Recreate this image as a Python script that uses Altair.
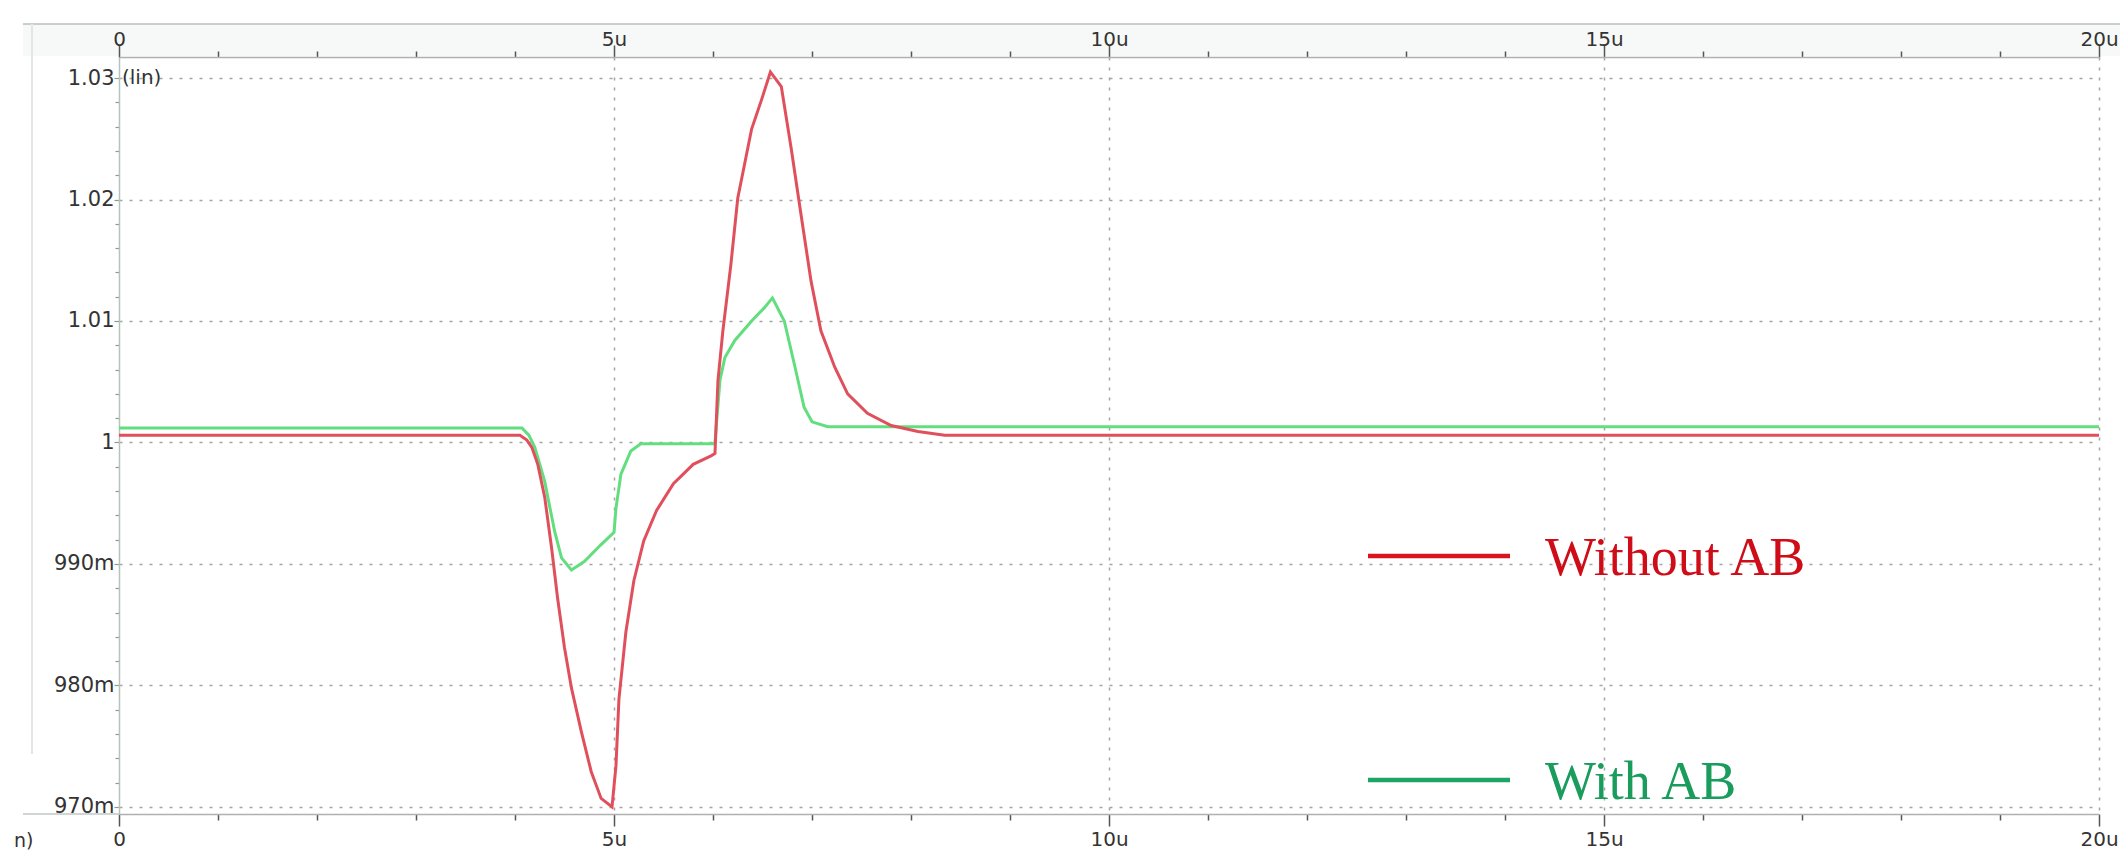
import altair as alt
import pandas as pd

# ---- data (time in microseconds, value in V) ----
red_t = [0, 4.05, 4.12, 4.17, 4.23, 4.30, 4.37, 4.43, 4.50, 4.57, 4.67, 4.77, 4.87, 4.98,
         5.02, 5.05, 5.12, 5.20, 5.30, 5.43, 5.60, 5.80, 5.98, 6.02, 6.05, 6.10, 6.18, 6.25,
         6.39, 6.49, 6.58, 6.69, 6.79, 6.89, 6.99, 7.09, 7.23, 7.36, 7.56, 7.80, 8.07, 8.34, 20]
red_v = [1.0006, 1.0006, 1.0002, 0.9996, 0.9982, 0.9955, 0.9913, 0.9872, 0.9831, 0.9798,
         0.9762, 0.9729, 0.9707, 0.9700, 0.9734, 0.9789, 0.9844, 0.9886, 0.9919, 0.9944,
         0.9966, 0.9982, 0.9989, 0.9991, 1.0051, 1.0092, 1.0146, 1.0201, 1.0258, 1.0282,
         1.0305, 1.0293, 1.0242, 1.0187, 1.0133, 1.0092, 1.0062, 1.0040, 1.0024, 1.0014,
         1.0009, 1.0006, 1.0006]

green_t = [0, 4.07, 4.14, 4.20, 4.30, 4.40, 4.47, 4.57, 4.70, 4.87, 5.00, 5.02, 5.07, 5.17,
           5.27, 6.00, 6.02, 6.07, 6.12, 6.22, 6.39, 6.52, 6.60, 6.72, 6.82, 6.92, 7.00,
           7.16, 20]
green_v = [1.0012, 1.0012, 1.0006, 0.9996, 0.9968, 0.9927, 0.9905, 0.9895, 0.9902, 0.9916,
           0.9926, 0.9946, 0.9974, 0.9993, 0.9999, 0.9999, 1.0000, 1.0051, 1.0070, 1.0084,
           1.0100, 1.0111, 1.0119, 1.0100, 1.0065, 1.0029, 1.0017, 1.0013, 1.0013]

series_names = ["Without AB", "With AB"]

x_tick_values = list(range(0, 21))
x_label_values = [0, 5, 10, 15, 20]
x_label_texts = ["0", "5u", "10u", "15u", "20u"]

y_tick_values = [round(0.970 + 0.002 * i, 3) for i in range(31)]
y_label_values = [1030, 1020, 1010, 1000, 990, 980, 970]   # in mV
y_label_texts = ["1.03", "1.02", "1.01", "1", "990m", "980m", "970m"]

# ---- frames ----
df_red = pd.DataFrame({"t": red_t, "v": red_v, "s": series_names[0]})
df_green = pd.DataFrame({"t": green_t, "v": green_v, "s": series_names[1]})

W, H = 1980, 757
X_DOMAIN = [0, 20]
Y_DOMAIN = [0.96942, 1.03173]
FONT = "DejaVu Sans"
GRID_COLOR = "#a4a4a4"
LABEL_COLOR = "#333333"

def arr(values):
    return "[" + ",".join(repr(v) for v in values) + "]"

x_label_expr = (
    f"indexof({arr(x_label_values)}, round(datum.value)) >= 0 ? "
    f"{arr(x_label_texts)}[indexof({arr(x_label_values)}, round(datum.value))] : ''"
)
y_label_expr = (
    f"indexof({arr(y_label_values)}, round(datum.value*1000)) >= 0 ? "
    f"{arr(y_label_texts)}[indexof({arr(y_label_values)}, round(datum.value*1000))] : ''"
)
x_major = "abs(datum.value - 5*round(datum.value/5)) < 0.01"
y_major = "abs(datum.value*100 - round(datum.value*100)) < 0.01"

x_scale = alt.Scale(domain=X_DOMAIN, nice=False, zero=False)
y_scale = alt.Scale(domain=Y_DOMAIN, nice=False, zero=False)

bottom_axis = alt.Axis(
    orient="bottom", values=x_tick_values, title=None, labelExpr=x_label_expr,
    labelFont=FONT, labelFontSize=20, labelColor=LABEL_COLOR, labelPadding=3,
    labelFlush=False, labelOverlap=False,
    tickColor="#555555", tickWidth=1.5,
    tickSize={"condition": {"test": x_major, "value": 12}, "value": 6},
    domainColor="#b0b0b0", domainWidth=1.5,
    grid=True, gridColor=GRID_COLOR, gridDash=[3, 7], gridWidth=1.5,
    gridOpacity={"condition": {"test": x_major + " && datum.value > 0", "value": 1}, "value": 0},
)
top_axis = alt.Axis(
    orient="top", values=x_tick_values, title=None, labelExpr=x_label_expr,
    labelFont=FONT, labelFontSize=20, labelColor=LABEL_COLOR, labelPadding=-4,
    labelFlush=False, labelOverlap=False,
    tickColor="#555555", tickWidth=1.5,
    tickSize={"condition": {"test": x_major, "value": 12}, "value": 6},
    domainColor="#b0b0b0", domainWidth=1.5, grid=False, zindex=1,
)
y_axis = alt.Axis(
    orient="left", values=y_tick_values, title=None, labelExpr=y_label_expr,
    labelFont=FONT, labelFontSize=21, labelColor=LABEL_COLOR, labelPadding=0,
    labelOverlap=False, labelFlush=False,
    tickColor="#8a9a92", tickWidth=1.2,
    tickSize={"condition": {"test": y_major, "value": 5}, "value": 4},
    domainColor="#b4c4bc", domainWidth=1.5,
    grid=True, gridColor=GRID_COLOR, gridDash=[3, 7], gridWidth=1.5,
    gridOpacity={"condition": {"test": y_major, "value": 1}, "value": 0},
)

green_line = alt.Chart(df_green).mark_line(
    color="#62de7e", strokeWidth=3, interpolate="linear"
).encode(
    x=alt.X("t:Q", scale=x_scale, axis=bottom_axis),
    y=alt.Y("v:Q", scale=y_scale, axis=y_axis),
)
red_line = alt.Chart(df_red).mark_line(
    color="#e0505c", strokeWidth=3, interpolate="linear"
).encode(
    x=alt.X("t:Q", scale=x_scale, axis=top_axis),
    y=alt.Y("v:Q", scale=y_scale, axis=y_axis),
)

# ---- frame decorations (pixel positions relative to the plot origin) ----
one = pd.DataFrame({"k": [0]})
top_band = alt.Chart(one).mark_rect(color="#f6f9f7").encode(
    x=alt.value(-96), x2=alt.value(W + 21), y=alt.value(-33), y2=alt.value(-1)
)
top_frame = alt.Chart(one).mark_rule(color="#b8c0bc", strokeWidth=1.5).encode(
    x=alt.value(-96), x2=alt.value(W + 21), y=alt.value(-33)
)
bottom_frame = alt.Chart(one).mark_rule(color="#c0c8c4", strokeWidth=1.5).encode(
    x=alt.value(-96), x2=alt.value(0), y=alt.value(H)
)
left_frame = alt.Chart(one).mark_rule(color="#e2e7e4", strokeWidth=2).encode(
    x=alt.value(-87), y=alt.value(-33), y2=alt.value(H - 60)
)

lin_text = alt.Chart(one).mark_text(
    text="(lin)", font=FONT, fontSize=20, color=LABEL_COLOR, align="left", baseline="middle"
).encode(x=alt.value(3), y=alt.value(21))
n_text = alt.Chart(one).mark_text(
    text="n)", font=FONT, fontSize=19, color=LABEL_COLOR, align="left", baseline="middle"
).encode(x=alt.value(-105), y=alt.value(784))

# ---- manual legend ----
leg_red_line = alt.Chart(one).mark_rule(color="#d8141f", strokeWidth=4.5).encode(
    x=alt.value(1249), x2=alt.value(1391), y=alt.value(499)
)
leg_red_text = alt.Chart(one).mark_text(
    text=series_names[0], font="Liberation Serif", fontSize=54, color="#cf0d18",
    align="left", baseline="middle"
).encode(x=alt.value(1426), y=alt.value(502))
leg_green_line = alt.Chart(one).mark_rule(color="#1ea464", strokeWidth=4.5).encode(
    x=alt.value(1249), x2=alt.value(1391), y=alt.value(723)
)
leg_green_text = alt.Chart(one).mark_text(
    text=series_names[1], font="Liberation Serif", fontSize=54, color="#1a9c5c",
    align="left", baseline="middle"
).encode(x=alt.value(1426), y=alt.value(726))

chart = alt.layer(
    top_band, top_frame, bottom_frame, left_frame,
    green_line, red_line,
    lin_text, n_text,
    leg_red_line, leg_red_text, leg_green_line, leg_green_text,
).resolve_axis(x="independent").properties(
    width=W, height=H,
    autosize=alt.AutoSizeParams(type="none"),
    padding={"left": 119, "top": 57, "right": 21, "bottom": 37},
    background="white",
).configure_view(stroke=None)

chart.save("out.html", embed_options={"renderer": "svg", "actions": False})
